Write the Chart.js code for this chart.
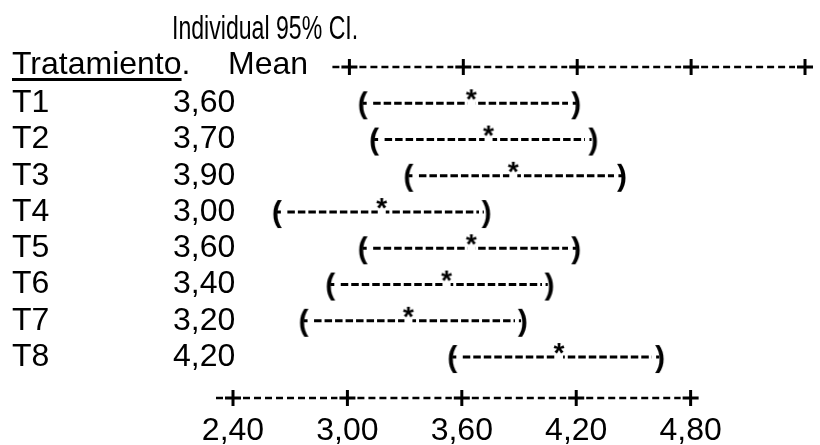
<!DOCTYPE html>
<html lang="es">
<head>
    <meta charset="UTF-8">
    <title>Individual 95% CI.</title>
    <script src="https://cdn.jsdelivr.net/npm/chart.js"></script>
    <style>
        body { margin: 0; background: #fff; }
        #wrap { position: relative; width: 820px; height: 445px; font-family: "Liberation Sans", Arial, sans-serif; color: #000; }
        #chart { position: absolute; left: 0; top: 0; }
        .txt { position: absolute; font-size: 32px; line-height: 32px; white-space: nowrap; }
        #title { left: 172px; top: 11px; font-size: 33px; line-height: 33px; transform: scaleX(0.7); transform-origin: left top; }
        #hdrTrat { left: 12px; top: 47px; }
        #hdrTrat u { text-decoration-thickness: 3px; text-underline-offset: 4px; }
        #hdrMean { left: 228px; top: 47px; }
    </style>
</head>
<body>
<div id="wrap">
    <canvas id="chart" width="820" height="445"></canvas>
    <div class="txt" id="title">Individual 95% CI.</div>
    <div class="txt" id="hdrTrat"><u>Tratamiento</u>.</div>
    <div class="txt" id="hdrMean">Mean</div>
</div>
<script>
    // tratamientos y medias tal como salen en la tabla
    const tratamientos = ['T1', 'T2', 'T3', 'T4', 'T5', 'T6', 'T7', 'T8'];
    const medias = ['3,60', '3,70', '3,90', '3,00', '3,60', '3,40', '3,20', '4,20'];
    const filas = [1, 2, 3, 4, 5, 6, 7, 8];

    // intervalos "( --- * --- )" leidos sobre la escala de abajo
    const ciLow  = [3.08, 3.14, 3.32, 2.63, 3.08, 2.91, 2.77, 3.55];
    const ciStar = [3.65, 3.74, 3.87, 3.18, 3.65, 3.52, 3.32, 4.11];
    const ciHigh = [4.20, 4.29, 4.44, 3.73, 4.20, 4.06, 3.92, 4.64];

    // marcas del eje
    const ejeTicks = [2.4, 3.0, 3.6, 4.2, 4.8];
    const ejeLabels = ['2,40', '3,00', '3,60', '4,20', '4,80'];

    const FONT = '"Liberation Sans", Arial, sans-serif';

    // dibuja un caracter en un canvas pequeño para usarlo como pointStyle;
    // hueco = [x0, ancho] zona blanca a la altura de la linea
    function glyph(ch, font, w, h, baseY, hueco) {
        const c = document.createElement('canvas');
        c.width = w;
        c.height = h;
        const g = c.getContext('2d');
        if (hueco) {
            g.fillStyle = '#fff';
            g.fillRect(hueco[0], h / 2 - 3, hueco[1], 6);
        }
        g.font = font;
        g.fillStyle = '#000';
        g.textAlign = 'center';
        g.textBaseline = 'alphabetic';
        g.fillText(ch, w / 2, baseY);
        return c;
    }

    const parIzq = glyph('(', 'bold 30px ' + FONT, 16, 40, 30, [12, 4]);
    const parDer = glyph(')', 'bold 30px ' + FONT, 16, 40, 30, [0, 4]);
    const estrella = glyph('*', 'bold 28px ' + FONT, 20, 40, 25, [6, 8]);

    const datasets = filas.map((f, i) => ({
        label: tratamientos[i],
        data: [
            { x: ciLow[i], y: f },
            { x: ciStar[i], y: f },
            { x: ciHigh[i], y: f }
        ],
        showLine: true,
        borderColor: '#000',
        backgroundColor: '#000',
        borderWidth: 3,
        borderDash: [7.5, 3],
        pointStyle: [parIzq, estrella, parDer],
        pointRadius: 8
    }));

    // regla tipo "-+---------+---------+" sobre las escalas de arriba y abajo
    const reglaAscii = {
        id: 'reglaAscii',
        afterDraw(chart) {
            const ctx = chart.ctx;
            ['x', 'x2'].forEach(id => {
                const s = chart.scales[id];
                const y = id === 'x' ? chart.chartArea.bottom : chart.chartArea.top;
                const px = ejeTicks.map(v => s.getPixelForValue(v));
                ctx.save();
                ctx.strokeStyle = '#000';
                ctx.lineWidth = 2.5;
                ctx.beginPath();
                ctx.moveTo(px[0] - 17, y);
                ctx.lineTo(px[0] - 10, y);
                ctx.stroke();
                ctx.setLineDash([7, 4]);
                for (let i = 0; i < px.length - 1; i++) {
                    ctx.beginPath();
                    ctx.moveTo(px[i] + 10, y);
                    ctx.lineTo(px[i + 1] - 10, y);
                    ctx.stroke();
                }
                ctx.setLineDash([]);
                ctx.lineWidth = 3;
                px.forEach(p => {
                    ctx.beginPath();
                    ctx.moveTo(p - 8, y);
                    ctx.lineTo(p + 8, y);
                    ctx.moveTo(p, y - 8);
                    ctx.lineTo(p, y + 8);
                    ctx.stroke();
                });
                ctx.restore();
            });
        }
    };

    const fijarFilas = s => { s.ticks = filas.map(v => ({ value: v })); };
    const fijarEje = s => { s.ticks = ejeTicks.map(v => ({ value: v })); };
    const fuente = { family: FONT, size: 32 };

    new Chart(document.getElementById('chart'), {
        type: 'scatter',
        data: { datasets: datasets },
        options: {
            responsive: false,
            animation: false,
            devicePixelRatio: 1,
            layout: { padding: { left: 12, right: 8, top: 67, bottom: 0 } },
            plugins: {
                legend: { display: false },
                tooltip: { enabled: false }
            },
            scales: {
                x: {
                    type: 'linear',
                    position: 'bottom',
                    min: 2.4157,
                    max: 5.4208,
                    grid: { display: false },
                    border: { display: false },
                    afterBuildTicks: fijarEje,
                    afterFit: s => { s.height = 47; },
                    ticks: {
                        callback: (v, i) => ejeLabels[i],
                        color: '#000',
                        font: fuente,
                        padding: 6,
                        maxRotation: 0,
                        autoSkip: false
                    }
                },
                x2: {
                    type: 'linear',
                    position: 'top',
                    min: 1.8026,
                    max: 4.821,
                    grid: { display: false },
                    border: { display: false },
                    afterBuildTicks: fijarEje,
                    afterFit: s => { s.height = 0; },
                    ticks: { display: false }
                },
                y: {
                    type: 'linear',
                    position: 'left',
                    reverse: true,
                    min: 0,
                    max: 9.13,
                    weight: 2,
                    grid: { display: false },
                    border: { display: false },
                    afterBuildTicks: fijarFilas,
                    afterFit: s => { s.width = 161; },
                    ticks: {
                        callback: (v, i) => tratamientos[i],
                        crossAlign: 'far',
                        color: '#000',
                        font: fuente,
                        autoSkip: false
                    }
                },
                yMean: {
                    type: 'linear',
                    position: 'left',
                    reverse: true,
                    min: 0,
                    max: 9.13,
                    weight: 1,
                    grid: { display: false },
                    border: { display: false },
                    afterBuildTicks: fijarFilas,
                    afterFit: s => { s.width = 63; },
                    ticks: {
                        callback: (v, i) => medias[i],
                        crossAlign: 'far',
                        color: '#000',
                        font: fuente,
                        autoSkip: false
                    }
                }
            }
        },
        plugins: [reglaAscii]
    });
</script>
</body>
</html>
